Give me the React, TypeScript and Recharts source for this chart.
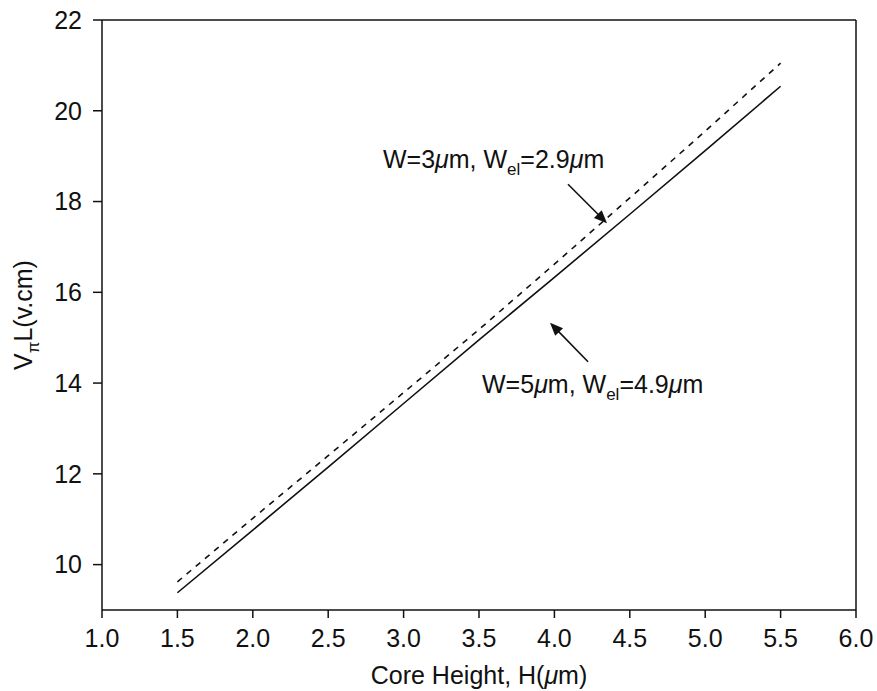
import React from 'react';
import { LineChart, Line, XAxis, YAxis, ReferenceLine, ReferenceDot, Label } from 'recharts';

const coreHeight = [1.5, 2.0, 2.5, 3.0, 3.5, 4.0, 4.5, 5.0, 5.5];
const vpiLW5 = [9.38, 10.76, 12.15, 13.55, 14.95, 16.33, 17.72, 19.12, 20.54];
const vpiLW3 = [9.62, 11.02, 12.4, 13.79, 15.18, 16.62, 18.08, 19.55, 21.05];
const xTicks = [1.0, 1.5, 2.0, 2.5, 3.0, 3.5, 4.0, 4.5, 5.0, 5.5, 6.0];
const yTicks = [10, 12, 14, 16, 18, 20, 22];

const label1Pos = { x: 2.863, y: 18.73 };
const label2Pos = { x: 3.52, y: 13.79 };
const arrow1 = [{ x: 4.09, y: 18.38 }, { x: 4.349, y: 17.52 }];
const arrow2 = [{ x: 4.223, y: 14.47 }, { x: 3.971, y: 15.33 }];

const data = coreHeight.map((h, i) => ({ h, w5: vpiLW5[i], w3: vpiLW3[i] }));

const FONT = '"Liberation Sans", Arial, Helvetica, sans-serif';
const INK = '#111';

const Arrow = (p: any) => {
  const { x1, y1, x2, y2 } = p;
  const dx = x2 - x1;
  const dy = y2 - y1;
  const len = Math.sqrt(dx * dx + dy * dy) || 1;
  const ux = dx / len;
  const uy = dy / len;
  const hl = 13;
  const hw = 5.5;
  const bx = x2 - ux * hl;
  const by = y2 - uy * hl;
  const px = -uy;
  const py = ux;
  return (
    <g>
      <line x1={x1} y1={y1} x2={bx + ux * 2} y2={by + uy * 2} stroke={INK} strokeWidth={1.6} />
      <polygon
        points={`${x2},${y2} ${bx + px * hw},${by + py * hw} ${bx - px * hw},${by - py * hw}`}
        fill={INK}
      />
    </g>
  );
};

const Text1 = (p: any) => (
  <text x={p.cx} y={p.cy} fontSize={25} fill={INK} fontFamily={FONT}>
    W=3<tspan fontStyle="italic">μ</tspan>m, W<tspan dy={7} fontSize={17}>el</tspan>
    <tspan dy={-7}>=2.9</tspan><tspan fontStyle="italic">μ</tspan>m
  </text>
);

const Text2 = (p: any) => (
  <text x={p.cx} y={p.cy} fontSize={25} fill={INK} fontFamily={FONT}>
    W=5<tspan fontStyle="italic">μ</tspan>m, W<tspan dy={7} fontSize={17}>el</tspan>
    <tspan dy={-7}>=4.9</tspan><tspan fontStyle="italic">μ</tspan>m
  </text>
);

const YLabel = (props: any) => {
  const vb = props.viewBox || { x: 22, y: 20, width: 80, height: 590 };
  const x = vb.x + 10;
  const y = vb.y + vb.height / 2;
  return (
    <text
      x={x}
      y={y}
      transform={`rotate(-90, ${x}, ${y})`}
      textAnchor="middle"
      fontSize={25}
      fill={INK}
      fontFamily={FONT}
    >
      V<tspan dy={7} fontSize={17}>π</tspan><tspan dy={-7}>L(v.cm)</tspan>
    </text>
  );
};

const XLabel = (props: any) => {
  const vb = props.viewBox || { x: 102, y: 610, width: 754, height: 81 };
  const x = vb.x + vb.width / 2;
  const y = vb.y + 74;
  return (
    <text x={x} y={y} textAnchor="middle" fontSize={25} fill={INK} fontFamily={FONT}>
      Core Height, H(<tspan fontStyle="italic">μ</tspan>m)
    </text>
  );
};

export default function App() {
  const tickStyle = { fontSize: 25, fill: INK, fontFamily: FONT };
  return (
    <div style={{ position: 'absolute', left: 0, top: 0, background: '#fff' }}>
      <LineChart
        width={877}
        height={691}
        data={data}
        margin={{ top: 20, right: 21, bottom: 0, left: 22 }}
      >
        <XAxis
          dataKey="h"
          type="number"
          domain={[1, 6]}
          ticks={xTicks}
          interval={0}
          tickFormatter={(v: number) => v.toFixed(1)}
          height={81}
          tickSize={8}
          tickMargin={11}
          tick={tickStyle}
          stroke={INK}
          axisLine={{ stroke: INK, strokeWidth: 1.5 }}
          tickLine={{ stroke: INK, strokeWidth: 1.5 }}
        >
          <Label content={<XLabel />} />
        </XAxis>
        <YAxis
          type="number"
          domain={[9, 22]}
          ticks={yTicks}
          interval={0}
          width={80}
          tickSize={9}
          tickMargin={11}
          tick={tickStyle}
          stroke={INK}
          axisLine={{ stroke: INK, strokeWidth: 1.5 }}
          tickLine={{ stroke: INK, strokeWidth: 1.5 }}
        >
          <Label content={<YLabel />} />
        </YAxis>
        <ReferenceLine y={22} stroke={INK} strokeWidth={1.5} />
        <ReferenceLine x={6} stroke={INK} strokeWidth={1.5} />
        <Line
          dataKey="w3"
          stroke={INK}
          strokeWidth={1.6}
          strokeDasharray="6 6"
          dot={false}
          isAnimationActive={false}
        />
        <Line dataKey="w5" stroke={INK} strokeWidth={1.6} dot={false} isAnimationActive={false} />
        <ReferenceLine segment={arrow1} shape={Arrow} />
        <ReferenceLine segment={arrow2} shape={Arrow} />
        <ReferenceDot x={label1Pos.x} y={label1Pos.y} r={0} shape={Text1} />
        <ReferenceDot x={label2Pos.x} y={label2Pos.y} r={0} shape={Text2} />
      </LineChart>
    </div>
  );
}
